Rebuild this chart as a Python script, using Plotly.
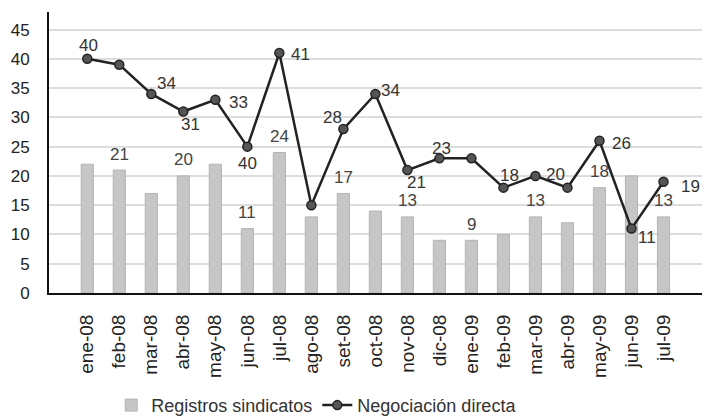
import plotly.graph_objects as go

months = ["ene-08", "feb-08", "mar-08", "abr-08", "may-08", "jun-08", "jul-08",
          "ago-08", "set-08", "oct-08", "nov-08", "dic-08", "ene-09", "feb-09",
          "mar-09", "abr-09", "may-09", "jun-09", "jul-09"]

registros = [22, 21, 17, 20, 22, 11, 24, 13, 17, 14, 13, 9, 9, 10, 13, 12, 18, 20, 13]
negociacion = [40, 39, 34, 31, 33, 25, 41, 15, 28, 34, 21, 23, 23, 18, 20, 18, 26, 11, 19]

# labels as printed on the original (None = no label)
bar_labels = [None, "21", None, "20", None, "11", "24", None, "17", None, "13", None,
              "9", None, "13", None, "18", None, "13"]
line_labels = ["40", None, "34", "31", "33", "40", "41", None, "28", "34", "21", "23",
               None, "18", "20", None, "26", "11", "19"]
# pixel offsets of the line labels from their points
line_shift = [(1, 13), None, (15, 10), (7, -13), (23, -3), (0, -17), (21, -2), None,
              (-11, 12), (15, 3), (9, -12), (2, 10), None, (6, 12), (20, 1), None,
              (22, -3), (16, -9), (27, -5)]

font = "Liberation Sans, Arial, sans-serif"

fig = go.Figure()
fig.add_trace(go.Bar(
    x=months, y=registros, name="Registros sindicatos",
    marker=dict(color="#c6c6c6", line=dict(color="#b4b4b4", width=1)),
    width=0.38,
))
fig.add_trace(go.Scatter(
    x=months, y=negociacion, name="Negociación directa", mode="lines+markers",
    line=dict(color="#222222", width=2.5),
    marker=dict(size=9, color="#555555", line=dict(color="#222222", width=1.5)),
))

annotations = []
for m, v, t in zip(months, registros, bar_labels):
    if t:
        annotations.append(dict(x=m, y=v, text=t, showarrow=False, yshift=16,
                                font=dict(size=17, color="#444444", family=font)))
for m, v, t, s in zip(months, negociacion, line_labels, line_shift):
    if t:
        annotations.append(dict(x=m, y=v, text=t, showarrow=False,
                                xshift=s[0], yshift=s[1],
                                font=dict(size=17, color="#333333", family=font)))

fig.update_layout(
    width=721, height=418,
    margin=dict(l=49, r=19, t=12, b=125, autoexpand=False),
    paper_bgcolor="white", plot_bgcolor="white",
    font=dict(family=font, size=17, color="#222222"),
    showlegend=True,
    legend=dict(orientation="h", x=0.41, xanchor="center", y=-0.4, yanchor="middle",
                font=dict(size=18, color="#333333")),
    annotations=annotations,
    xaxis=dict(showline=True, linecolor="#111111", linewidth=2, tickangle=-90,
               ticks="", tickfont=dict(size=19), ticklabelstandoff=12,
               automargin=False),
    yaxis=dict(range=[0, 48], tickvals=list(range(0, 50, 5)), showline=True,
               linecolor="#111111", linewidth=2, gridcolor="#dddddd", gridwidth=1.5,
               zeroline=False, ticks="", tickfont=dict(size=17),
               ticklabelstandoff=14, automargin=False),
    bargap=0.6,
)

# drop the default page margin so the chart sits at the window's corner
fig.write_html("out.html", config={"displayModeBar": False},
               post_script="document.body.style.margin='0';")
